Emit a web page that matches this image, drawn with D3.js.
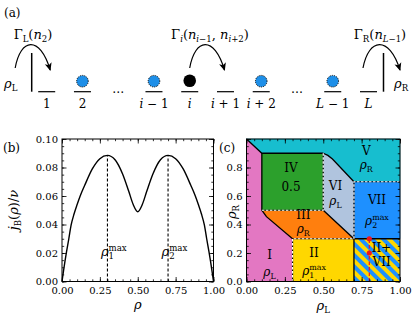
<!DOCTYPE html>
<html>
<head>
<meta charset="utf-8">
<script src="https://cdn.jsdelivr.net/npm/d3@7"></script>
<style>
  body { margin: 0; background: #fff; }
  svg { display: block; }
  svg text { font-family: "DejaVu Serif", serif; }
</style>
</head>
<body>
<svg id="fig" width="415" height="315"></svg>
<script>
// ---------- data ----------
// (a) lattice schematic
var siteKeys = ["s1", "s2", "d1", "im1", "i", "ip1", "ip2", "d2", "Lm1", "L"];
var siteOcc = ["empty", "blue", "dots", "blue", "black", "empty", "blue", "dots", "blue", "empty"];
var siteLabels = [
    [{ t: "1" }],
    [{ t: "2" }],
    [],
    [{ t: "i", i: 1 }, { t: " − 1" }],
    [{ t: "i", i: 1 }],
    [{ t: "i", i: 1 }, { t: " + 1" }],
    [{ t: "i", i: 1 }, { t: " + 2" }],
    [],
    [{ t: "L", i: 1 }, { t: " − 1" }],
    [{ t: "L", i: 1 }]
];

// (b) current vs density
var rhoVals = [0, 0.01, 0.02, 0.03, 0.045, 0.06, 0.08, 0.1, 0.12, 0.15, 0.2, 0.25, 0.3, 0.35, 0.4, 0.44, 0.47, 0.5,
    0.53, 0.56, 0.6, 0.65, 0.7, 0.75, 0.8, 0.85, 0.88, 0.9, 0.92, 0.94, 0.955, 0.97, 0.98, 0.99, 1];
var jVals = [0, 0.0075, 0.0145, 0.021, 0.030, 0.0395, 0.0475, 0.054, 0.060, 0.0675, 0.079, 0.0862, 0.0885, 0.0855, 0.0755, 0.0635, 0.054, 0.049,
    0.054, 0.0635, 0.0755, 0.0855, 0.0885, 0.0862, 0.079, 0.0675, 0.060, 0.054, 0.0475, 0.0395, 0.030, 0.021, 0.0145, 0.0075, 0];
var rhoMax = [0.3, 0.7];
var jMax = 0.0885;
var bXTicks = [0, 0.25, 0.5, 0.75, 1];
var bYTicks = [0, 0.02, 0.04, 0.06, 0.08, 0.1];

// (c) phase diagram (rhoL, rhoR)
var phaseNames = ["I", "II", "III", "IV", "V", "VI", "VII", "II+VII"];
var phaseColors = ["#e377c2", "#ffd700", "#ff7f0e", "#2ca02c", "#17becf", "#b0c4de", "#1e90ff", "url(#stripes)"];
var phasePolys = [
    [[0, 0], [0, 1], [0.1, 0.9], [0.1, 0.5], [0.13, 0.455], [0.3, 0.3], [0.3, 0]],
    [[0.3, 0], [0.3, 0.3], [0.7, 0.3], [0.7, 0]],
    [[0.1, 0.5], [0.5, 0.5], [0.7, 0.3], [0.3, 0.3], [0.13, 0.455]],
    [[0.1, 0.5], [0.1, 0.9], [0.5, 0.9], [0.5, 0.5]],
    [[0, 1], [1, 1], [1, 0.7], [0.7, 0.7], [0.56, 0.86], [0.53, 0.885], [0.5, 0.9], [0.1, 0.9]],
    [[0.5, 0.5], [0.5, 0.9], [0.53, 0.885], [0.56, 0.86], [0.7, 0.7], [0.7, 0.3]],
    [[0.7, 0.3], [0.7, 0.7], [1, 0.7], [1, 0.3]],
    [[0.7, 0], [0.7, 0.3], [1, 0.3], [1, 0]]
];
var solidLines = [
    [[0, 1], [0.1, 0.9], [0.5, 0.9]],
    [[0.1, 0.9], [0.1, 0.5], [0.13, 0.455], [0.3, 0.3]],
    [[0.5, 0.9], [0.53, 0.885], [0.56, 0.86], [0.7, 0.7]],
    [[0.5, 0.5], [0.7, 0.3], [1, 0.3]],
    [[0.7, 0.3], [0.7, 0]]
];
var dashedLines = [
    [[0.1, 0.5], [0.5, 0.5], [0.5, 0.9]],
    [[0.3, 0], [0.3, 0.3], [0.7, 0.3]],
    [[0.7, 0.3], [0.7, 0.7], [1, 0.7]]
];
// labels inside the phase diagram: [rhoL, rhoR, parts]
var phaseLabels = [
    [0.15, 0.19, [{ t: "I" }]],
    [0.15, 0.07, [{ t: "ρ", i: 1 }, { t: "L", s: "sub" }]],
    [0.44, 0.2, [{ t: "II" }]],
    [0.44, 0.075, [{ t: "ρ", i: 1 }, { t: "1", s: "sub" }, { t: "max", s: "sup", o: 1 }]],
    [0.37, 0.465, [{ t: "III" }]],
    [0.37, 0.37, [{ t: "ρ", i: 1 }, { t: "R", s: "sub" }]],
    [0.29, 0.8, [{ t: "IV" }]],
    [0.29, 0.665, [{ t: "0.5" }]],
    [0.78, 0.915, [{ t: "V" }]],
    [0.78, 0.82, [{ t: "ρ", i: 1 }, { t: "R", s: "sub" }]],
    [0.58, 0.67, [{ t: "VI" }]],
    [0.58, 0.565, [{ t: "ρ", i: 1 }, { t: "L", s: "sub" }]],
    [0.85, 0.575, [{ t: "VII" }]],
    [0.85, 0.425, [{ t: "ρ", i: 1 }, { t: "2", s: "sub" }, { t: "max", s: "sup", o: 1 }]],
    [0.88, 0.235, [{ t: "II+" }]],
    [0.88, 0.14, [{ t: "VII" }]]
];
var pathX = 0.8;
var pathPoints = [[0.8, 0.3], [0.8, 0.2]];
var cXTicks = [0, 0.25, 0.5, 0.75, 1];
var cYTicks = [0, 0.2, 0.4, 0.6, 0.8, 1];

// ---------- helpers ----------
var SERIF = "DejaVu Serif";
var svg = d3.select("#fig");

// small TeX-like text: base, sub and sup tspans
function tex(parent, x, y, parts, fs, anchor) {
    var t = parent.append("text")
        .attr("x", x).attr("y", y)
        .style("font-family", SERIF)
        .attr("font-size", fs)
        .attr("text-anchor", anchor || "middle");
    var cur = 0, prev = null;
    parts.forEach(function(p) {
        var off = p.s === "sub" ? 0.25 * fs : p.s === "sup" ? -0.42 * fs : 0;
        var ts = t.append("tspan").text(p.t)
            .attr("font-size", p.s ? fs * 0.66 : fs)
            .attr("dy", off - cur);
        cur = off;
        if (p.i) ts.attr("font-style", "italic");
        var dx = p.dx || 0;
        if (p.o && prev) dx -= prev.getComputedTextLength();
        if (dx) ts.attr("dx", dx);
        prev = ts.node();
    });
    return t;
}

function frame(g, x, y, xMaj, xMin, yMaj, yMin, xFmt, yFmt, yLabelled) {
    var xr = x.range(), yr = y.range();
    var bottom = yr[0], top = yr[1], left = xr[0], right = xr[1];
    function clean(s) {
        s.attr("font-family", null);
        s.select(".domain").remove();
        s.selectAll("text").style("font-family", SERIF).attr("font-size", 10).attr("fill", "#000");
        s.selectAll("line").attr("stroke", "#000").attr("stroke-width", 0.8);
    }
    // minor ticks on all four sides
    g.append("g").attr("transform", "translate(0," + bottom + ")")
        .call(d3.axisBottom(x).tickValues(xMin).tickSize(-2.2).tickFormat("")).call(clean);
    g.append("g").attr("transform", "translate(0," + top + ")")
        .call(d3.axisTop(x).tickValues(xMin).tickSize(-2.2).tickFormat("")).call(clean);
    g.append("g").attr("transform", "translate(" + left + ",0)")
        .call(d3.axisLeft(y).tickValues(yMin).tickSize(-2.2).tickFormat("")).call(clean);
    g.append("g").attr("transform", "translate(" + right + ",0)")
        .call(d3.axisRight(y).tickValues(yMin).tickSize(-2.2).tickFormat("")).call(clean);
    // major ticks
    g.append("g").attr("transform", "translate(0," + bottom + ")")
        .call(d3.axisBottom(x).tickValues(xMaj).tickSize(-4.5).tickPadding(5.5).tickFormat(d3.format(xFmt))).call(clean);
    g.append("g").attr("transform", "translate(0," + top + ")")
        .call(d3.axisTop(x).tickValues(xMaj).tickSize(-4.5).tickFormat("")).call(clean);
    g.append("g").attr("transform", "translate(" + left + ",0)")
        .call(d3.axisLeft(y).tickValues(yMaj).tickSize(-4.5).tickPadding(4)
            .tickFormat(function(d) { return yLabelled(d) ? d3.format(yFmt)(d) : ""; })).call(clean);
    g.append("g").attr("transform", "translate(" + right + ",0)")
        .call(d3.axisRight(y).tickValues(yMaj).tickSize(-4.5).tickFormat("")).call(clean);
    g.append("rect")
        .attr("x", left).attr("y", top)
        .attr("width", right - left).attr("height", bottom - top)
        .attr("fill", "none").attr("stroke", "#000").attr("stroke-width", 1);
}

var defs = svg.append("defs");
defs.append("marker")
    .attr("id", "arrow")
    .attr("markerUnits", "userSpaceOnUse")
    .attr("markerWidth", 9).attr("markerHeight", 9)
    .attr("refX", 7).attr("refY", 4)
    .attr("orient", "auto")
    .append("path")
    .attr("d", "M0,0.5 L8,4 L0,7.5 L2,4 Z")
    .attr("fill", "#000");
var pat = defs.append("pattern")
    .attr("id", "stripes")
    .attr("patternUnits", "userSpaceOnUse")
    .attr("width", 8).attr("height", 8)
    .attr("patternTransform", "rotate(-45)");
pat.append("rect").attr("width", 8).attr("height", 8).attr("fill", "#1e90ff");
pat.append("rect").attr("width", 4).attr("height", 8).attr("fill", "#ffd700");

// ---------- (a) ----------
var ga = svg.append("g");
tex(ga, 4, 17, [{ t: "(a)" }], 12, "start");

var sx = d3.scalePoint().domain(siteKeys).range([46.7, 368.5]);
var lineY = 91.7, dotY = 81.2;

siteKeys.forEach(function(k, idx) {
    var cx = sx(k);
    if (siteOcc[idx] === "dots") {
        tex(ga, cx, 93, [{ t: "…" }], 12);
        return;
    }
    ga.append("line")
        .attr("x1", cx - 8.5).attr("x2", cx + 8.5)
        .attr("y1", lineY).attr("y2", lineY)
        .attr("stroke", "#000").attr("stroke-width", 1.2);
    tex(ga, cx, 108, siteLabels[idx], 12);
    if (siteOcc[idx] === "blue") {
        ga.append("circle").attr("cx", cx).attr("cy", dotY).attr("r", 5.8)
            .attr("fill", "#1e8fe8").attr("stroke", "#000")
            .attr("stroke-width", 1).attr("stroke-dasharray", "1,1");
    } else if (siteOcc[idx] === "black") {
        ga.append("circle").attr("cx", cx).attr("cy", dotY - 0.5).attr("r", 6.3).attr("fill", "#000");
    }
});

// reservoir walls
[sx("s1") - 15, sx("L") + 15].forEach(function(wx) {
    ga.append("line").attr("x1", wx).attr("x2", wx).attr("y1", 53).attr("y2", lineY)
        .attr("stroke", "#000").attr("stroke-width", 1.5);
});

// hopping arcs
function arc(x0, x1) {
    var w = x1 - x0;
    ga.append("path")
        .attr("d", "M" + x0 + ",68 C" + (x0 + 0.15 * w) + ",38 " + (x0 + 0.7 * w) + ",35 " + x1 + ",70")
        .attr("fill", "none").attr("stroke", "#000").attr("stroke-width", 1.2)
        .attr("marker-end", "url(#arrow)");
}
arc(sx("s1") - 31.5, sx("s1") + 3.5);
arc(sx("i"), sx("ip1") - 1);
arc(sx("L") - 5.5, sx("L") + 31.5);

tex(ga, 33, 39, [{ t: "Γ" }, { t: "L", s: "sub" }, { t: "(" }, { t: "n", i: 1 }, { t: "2", s: "sub" }, { t: ")" }], 13);
tex(ga, 210, 39, [{ t: "Γ" }, { t: "i", s: "sub", i: 1 }, { t: "(" }, { t: "n", i: 1 }, { t: "i", s: "sub", i: 1 }, { t: "−1", s: "sub" },
    { t: ", " }, { t: "n", i: 1 }, { t: "i", s: "sub", i: 1 }, { t: "+2", s: "sub" }, { t: ")" }], 13);
tex(ga, 380, 39, [{ t: "Γ" }, { t: "R", s: "sub" }, { t: "(" }, { t: "n", i: 1 }, { t: "L", s: "sub", i: 1 }, { t: "−1", s: "sub" }, { t: ")" }], 13);
tex(ga, 4, 88, [{ t: "ρ", i: 1 }, { t: "L", s: "sub" }], 13, "start");
tex(ga, 394, 88, [{ t: "ρ", i: 1 }, { t: "R", s: "sub" }], 13, "start");

// ---------- (b) ----------
var gb = svg.append("g");
var xb = d3.scaleLinear().domain([0, 1]).range([62, 213.5]);
var yb = d3.scaleLinear().domain([0, 0.1]).range([281.5, 139]);

var curve = rhoVals.map(function(r, k) { return [r, jVals[k]]; });
gb.append("path")
    .datum(curve)
    .attr("d", d3.line().x(function(d) { return xb(d[0]); }).y(function(d) { return yb(d[1]); }).curve(d3.curveMonotoneX))
    .attr("fill", "none").attr("stroke", "#000").attr("stroke-width", 1.4);

gb.selectAll(".rmax").data(rhoMax).join("line")
    .attr("x1", function(d) { return xb(d); }).attr("x2", function(d) { return xb(d); })
    .attr("y1", yb(0)).attr("y2", yb(jMax))
    .attr("stroke", "#000").attr("stroke-width", 1.1).attr("stroke-dasharray", "3,2");

rhoMax.forEach(function(r, k) {
    tex(gb, xb(r) - 6.5, 256, [{ t: "ρ", i: 1 }, { t: String(k + 1), s: "sub" }, { t: "max", s: "sup", o: 1 }], 13, "start");
});

frame(gb, xb, yb, bXTicks, d3.range(0, 1.0001, 0.05), bYTicks, d3.range(0, 0.10001, 0.005), ".2f", ".2f",
    function() { return true; });

tex(gb, 3, 152, [{ t: "(b)" }], 12, "start");
tex(gb, xb(0.5), 309, [{ t: "ρ", i: 1 }], 13);
tex(gb, 0, 0, [{ t: "j", i: 1 }, { t: "B", s: "sub" }, { t: "(" }, { t: "ρ", i: 1 }, { t: ")/" }, { t: "ν", i: 1 }], 13)
    .attr("transform", "translate(18,210) rotate(-90)");

// ---------- (c) ----------
var gc = svg.append("g");
var xc = d3.scaleLinear().domain([0, 1]).range([246.5, 400]);
var yc = d3.scaleLinear().domain([0, 1]).range([281.5, 139]);
var pl = d3.line().x(function(d) { return xc(d[0]); }).y(function(d) { return yc(d[1]); });

gc.selectAll(".phase").data(phasePolys).join("path")
    .attr("d", function(d) { return pl(d) + "Z"; })
    .attr("fill", function(d, k) { return phaseColors[k]; })
    .attr("stroke", function(d, k) { return k === 7 ? "none" : phaseColors[k]; })
    .attr("stroke-width", 0.5);

gc.selectAll(".bl").data(solidLines).join("path")
    .attr("d", pl).attr("fill", "none")
    .attr("stroke", "#000").attr("stroke-width", 1.3);
gc.selectAll(".wlb").data(dashedLines).join("path")
    .attr("d", pl).attr("fill", "none")
    .attr("stroke", "#000").attr("stroke-width", 1.2);
gc.selectAll(".wl").data(dashedLines).join("path")
    .attr("d", pl).attr("fill", "none")
    .attr("stroke", "#fff").attr("stroke-width", 1.2).attr("stroke-dasharray", "2.5,1.5");

gc.append("line")
    .attr("x1", xc(pathX)).attr("x2", xc(pathX))
    .attr("y1", yc(0)).attr("y2", yc(pathPoints[0][1]))
    .attr("stroke", "#f0141e").attr("stroke-width", 1.2).attr("stroke-dasharray", "3.5,2");
gc.selectAll(".pp").data(pathPoints).join("circle")
    .attr("cx", function(d) { return xc(d[0]); }).attr("cy", function(d) { return yc(d[1]); })
    .attr("r", 2.6).attr("fill", "#f0141e");

phaseLabels.forEach(function(l) {
    tex(gc, xc(l[0]), yc(l[1]) + 4.2, l[2], 12);
});

frame(gc, xc, yc, cXTicks, d3.range(0, 1.0001, 0.05), cYTicks, d3.range(0, 1.0001, 0.05), ".2f", ".1f",
    function(d) { return d < 0.95; });

tex(gc, 219, 152, [{ t: "(c)" }], 12, "start");
tex(gc, xc(0.5), 310, [{ t: "ρ", i: 1 }, { t: "L", s: "sub" }], 13);
tex(gc, 0, 0, [{ t: "ρ", i: 1 }, { t: "R", s: "sub" }], 13)
    .attr("transform", "translate(236,212) rotate(-90)");
</script>
</body>
</html>
